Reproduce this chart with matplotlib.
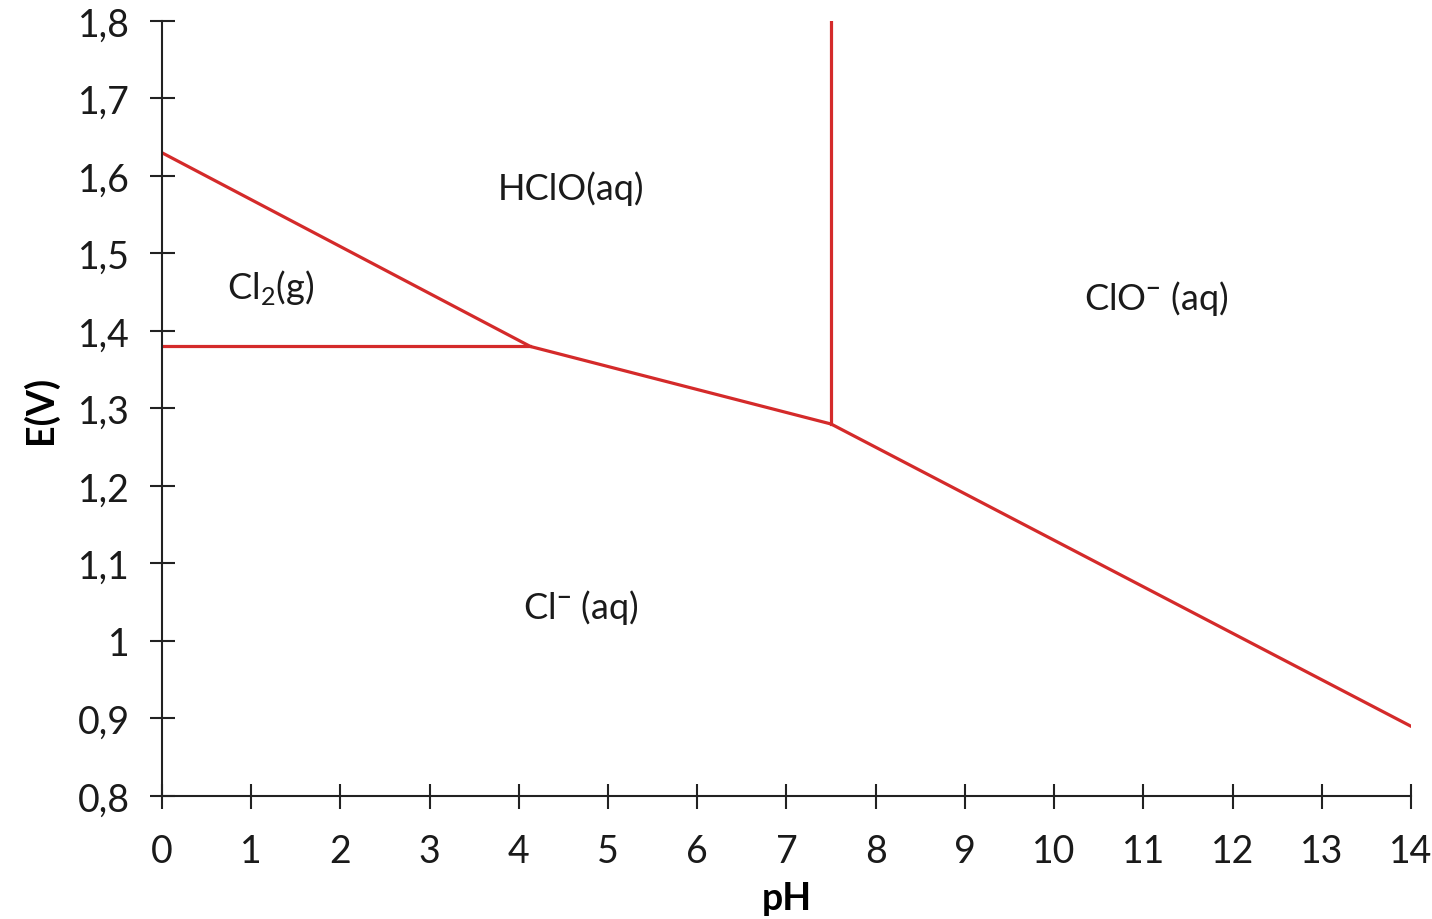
import matplotlib
matplotlib.use("Agg")
import matplotlib.pyplot as plt

# Pourbaix diagram of chlorine
# Cl2/Cl- and HClO/Cl- / ClO-/Cl- boundary
lower_ph = [0, 4.13, 7.5, 14]
lower_E = [1.63, 1.38, 1.28, 0.89]
# Cl2(g)/Cl- horizontal boundary
cl2_ph = [0, 4.13]
cl2_E = [1.38, 1.38]
# HClO/ClO- vertical boundary (pKa)
pka_ph = [7.5, 7.5]
pka_E = [1.28, 1.8]

species = ['HClO(aq)', r'Cl$_2$(g)', r'Cl$^{\bf{-}}$ (aq)', r'ClO$^{\bf{-}}$ (aq)']
species_ph = [4.58, 1.22, 4.7, 11.15]
species_E = [1.585, 1.458, 1.045, 1.443]

xticks = list(range(0, 15))
yticks = [0.8, 0.9, 1.0, 1.1, 1.2, 1.3, 1.4, 1.5, 1.6, 1.7, 1.8]
ytick_labels = ['0,8', '0,9', '1', '1,1', '1,2', '1,3', '1,4', '1,5', '1,6', '1,7', '1,8']

plt.rcParams['font.family'] = ['Lato', 'DejaVu Sans']
plt.rcParams['mathtext.fontset'] = 'custom'
plt.rcParams['mathtext.rm'] = 'Lato'
plt.rcParams['mathtext.bf'] = 'Lato:bold'

fig = plt.figure(figsize=(14.32, 9.2), dpi=100)
ax = fig.add_axes([0.1131, 0.1337, 0.8722, 0.8424])

red = '#d42a2a'
ax.plot(lower_ph, lower_E, color=red, linewidth=2.3)
ax.plot(cl2_ph, cl2_E, color=red, linewidth=2.3)
ax.plot(pka_ph, pka_E, color=red, linewidth=2.3)

for name, x, y in zip(species, species_ph, species_E):
    ax.text(x, y, name, fontsize=26, ha='center', va='center', color='#1a1a1a')

ax.set_xlim(0, 14)
ax.set_ylim(0.8, 1.8)
ax.set_xticks(xticks)
ax.set_yticks(yticks)
ax.set_yticklabels(ytick_labels)

for side in ['top', 'right']:
    ax.spines[side].set_visible(False)
for side in ['left', 'bottom']:
    ax.spines[side].set_linewidth(1.5)
    ax.spines[side].set_color('#222222')

ax.tick_params(axis='both', direction='inout', length=18, width=1.5,
               labelsize=27, color='#222222', labelcolor='#1a1a1a')
ax.tick_params(axis='x', pad=18)
ax.tick_params(axis='y', pad=14)

ax.set_xlabel('pH', fontsize=27, fontweight='bold', labelpad=8)
ax.set_ylabel('E(V)', fontsize=27, fontweight='bold', labelpad=14)

fig.savefig('out.png', dpi=100)
